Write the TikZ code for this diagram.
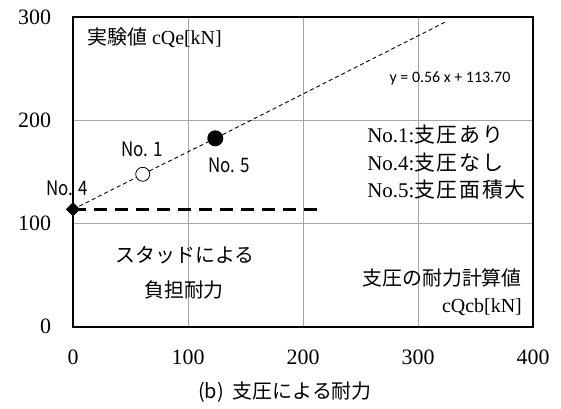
\documentclass[tikz,border=0pt]{standalone}
\usepackage{fontspec}
\setmainfont{Liberation Serif}
\newfontfamily\jp{Noto Sans CJK JP}
\newfontfamily\jpwide{Noto Sans CJK JP}[LetterSpace=8]
\newfontfamily\calib{Carlito}
\usetikzlibrary{shapes.geometric}
\begin{document}
\begin{tikzpicture}[x=1.15bp, y=1.033bp,
  gridline/.style={gray!70, line width=0.8bp},
  frame/.style={black, line width=1.8bp},
  tick/.style={font=\fontsize{22}{24}\selectfont, inner sep=0pt},
  ptlabel/.style={font=\jp\fontsize{20}{22}\selectfont, inner sep=0pt, xscale=0.85},
  jptext/.style={font=\jp\fontsize{20}{22}\selectfont, inner sep=0pt}]
\useasboundingbox (-63.5,-78.7) rectangle (424.3,316.3);
%\draw [lightgray](0,0) grid (400, 300);

% grid
\foreach \gx in {100,200,300}
  \draw [gridline](\gx,0) -- (\gx,300);
\foreach \gy in {100,200}
  \draw [gridline](0,\gy) -- (400,\gy);
\draw [frame](0,0) rectangle (400,300); % plot area

% tick labels
\foreach \v in {0,100,200,300}
  \node [tick, anchor=east] (yt\v) at (-19,\v){\v};
\foreach \v in {0,100,200,300,400}
  \node [tick] (xt\v) at (\v,-29.3){\v};

% data points
\node [diamond, fill=black, inner sep=0pt, minimum size=14bp] (no4) at (0,113.7){};
\node [circle, draw=black, fill=white, inner sep=0pt, minimum size=14bp, line width=0.8bp] (no1) at (60.6,147.6){};
\node [circle, fill=black, inner sep=0pt, minimum size=16bp] (no5) at (123.7,182.4){};
\coordinate (trendend) at (325,295.7);
\coordinate (dashend) at (218,113.7);

\draw [dash pattern=on 4bp off 3bp, line width=0.9bp](no4.center) -- (no1);
\draw [dash pattern=on 4bp off 3bp, line width=0.9bp](no1) -- (no5);
\draw [dash pattern=on 4bp off 3bp, line width=0.9bp](no5) -- (trendend);
\draw [dash pattern=on 13bp off 8bp, line width=3bp](no4.center) -- (dashend);
\node [diamond, fill=black, inner sep=0pt, minimum size=14bp] at (no4){};

% point labels
\node [ptlabel] (lno4) at (-5.2,134.3){No. 4};
\node [ptlabel] (lno1) at (60,172){No. 1};
\node [ptlabel] (lno5) at (135.7,156.6){No. 5};

% texts
\node [anchor=west, inner sep=0pt, font=\fontsize{20}{22}\selectfont] (ylab) at (12.2,279.6){{\jp 実験値} cQe[kN]};
\node [inner sep=0pt, font=\calib\fontsize{16}{18}\selectfont] (eq) at (327.8,240.8){y = 0.56 x + 113.70};
\node [anchor=west, inner sep=0pt, font=\fontsize{21}{23}\selectfont] (leg1) at (255.7,185.7){No.1:{\jpwide 支圧あり}};
\node [anchor=west, inner sep=0pt, font=\fontsize{21}{23}\selectfont] (leg4) at (255.7,158.6){No.4:{\jpwide 支圧なし}};
\node [anchor=west, inner sep=0pt, font=\fontsize{21}{23}\selectfont] (leg5) at (255.7,132.4){No.5:{\jpwide 支圧面積大}};
\node [jptext] (stud1) at (97.4,69.4){スタッドによる};
\node [jptext] (stud2) at (96.5,35.5){負担耐力};
\node [jptext, anchor=east] (calc1) at (390.4,47.1){支圧の耐力計算値};
\node [anchor=east, inner sep=0pt, font=\fontsize{20}{22}\selectfont] (xlab) at (390.4,19.1){cQcb[kN]};

\node [jptext] (cap) at (184.3,-63.2){(b)\hspace{9bp}支圧による耐力};

\end{tikzpicture}
\end{document}
